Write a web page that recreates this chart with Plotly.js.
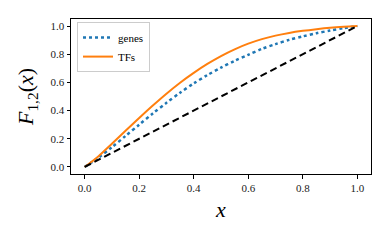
<!DOCTYPE html>
<html>
<head>
<meta charset="utf-8">
<script src="https://cdn.plot.ly/plotly-3.0.1.min.js"></script>
<style>html,body{margin:0;padding:0;background:#fff;}#chart{width:391px;height:241px;}</style>
</head>
<body>
<div id="chart"></div>
<script>
const xs = [0, 0.05, 0.1, 0.15, 0.2, 0.25, 0.3, 0.35, 0.4, 0.45, 0.5, 0.55, 0.6, 0.65, 0.7, 0.75, 0.8, 0.85, 0.9, 0.95, 1.0];
const genes = [0, 0.065, 0.14, 0.22, 0.30, 0.38, 0.455, 0.527, 0.593, 0.652, 0.705, 0.753, 0.796, 0.838, 0.872, 0.902, 0.927, 0.949, 0.968, 0.985, 1.0];
const tfs = [0, 0.075, 0.165, 0.257, 0.348, 0.436, 0.52, 0.598, 0.668, 0.731, 0.787, 0.835, 0.875, 0.907, 0.932, 0.951, 0.966, 0.978, 0.988, 0.995, 1.0];
const diagX = [0, 1];
const diagY = [0, 1];
const tickVals = [0, 0.2, 0.4, 0.6, 0.8, 1.0];
const tickText = ['0.0', '0.2', '0.4', '0.6', '0.8', '1.0'];

const font = 'Liberation Serif';
const traces = [
  {x: xs, y: genes, mode: 'lines', name: 'genes', line: {color: '#1f77b4', width: 2.5, dash: 'dot', shape: 'spline', smoothing: 0.8}},
  {x: xs, y: tfs, mode: 'lines', name: 'TFs', line: {color: '#ff7f0e', width: 2, shape: 'spline', smoothing: 0.8}},
  {x: diagX, y: diagY, mode: 'lines', showlegend: false, line: {color: '#000', width: 2, dash: '7px,4px'}}
];
const axisCommon = {
  range: [-0.05, 1.05], tickvals: tickVals, ticktext: tickText,
  showgrid: false, zeroline: false, showline: true, mirror: true,
  linecolor: '#000', linewidth: 1, ticks: 'outside', ticklen: 3.5, tickwidth: 1, tickcolor: '#000',
  tickfont: {family: font, size: 11, color: '#222'}
};
const layout = {
  width: 391, height: 241,
  margin: {l: 71, r: 20, t: 19, b: 67},
  paper_bgcolor: '#fff', plot_bgcolor: '#fff',
  font: {family: font},
  xaxis: Object.assign({}, axisCommon, {title: {text: '<i>x</i>', font: {family: font, size: 22, color: '#000'}, standoff: 8}}),
  yaxis: Object.assign({}, axisCommon, {title: {text: '<i>F</i><sub>1,2</sub>(<i>x</i>)', font: {family: font, size: 22, color: '#000'}, standoff: 10}}),
  legend: {x: 0.02, y: 0.98, xanchor: 'left', yanchor: 'top', bgcolor: 'rgba(255,255,255,0.8)', bordercolor: '#ccc', borderwidth: 1,
           font: {family: font, size: 11, color: '#000'}, tracegroupgap: 0, itemwidth: 30},
  showlegend: true
};
Plotly.newPlot('chart', traces, layout, {displayModeBar: false, staticPlot: true});
</script>
</body>
</html>
